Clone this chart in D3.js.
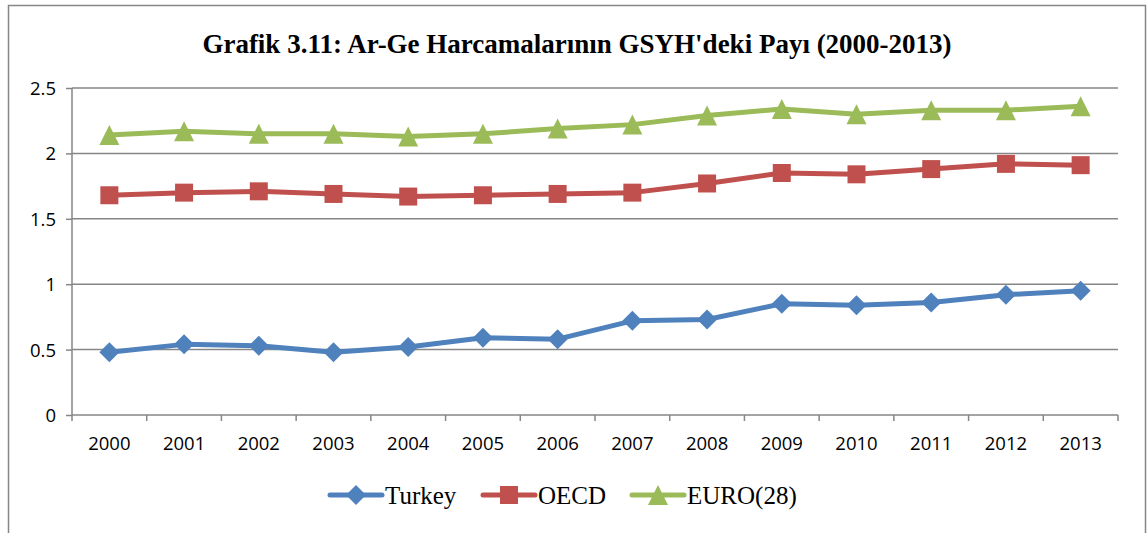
<!DOCTYPE html>
<html>
<head>
<meta charset="utf-8">
<title>Grafik 3.11</title>
<script src="https://d3js.org/d3.v7.min.js"></script>
<style>
  body { margin: 0; background: #fff; }
  .tick text { font-family: "Open Sans", sans-serif; font-size: 18.5px; fill: #000; }
</style>
</head>
<body>
<svg width="1148" height="533"></svg>
<script>
var years = ["2000","2001","2002","2003","2004","2005","2006","2007","2008","2009","2010","2011","2012","2013"];
var turkey = [0.48, 0.54, 0.53, 0.48, 0.52, 0.59, 0.58, 0.72, 0.73, 0.85, 0.84, 0.86, 0.92, 0.95];
var oecd   = [1.68, 1.70, 1.71, 1.69, 1.67, 1.68, 1.69, 1.70, 1.77, 1.85, 1.84, 1.88, 1.92, 1.91];
var euro   = [2.14, 2.17, 2.15, 2.15, 2.13, 2.15, 2.19, 2.22, 2.29, 2.34, 2.30, 2.33, 2.33, 2.36];
var yTicks = [0, 0.5, 1, 1.5, 2, 2.5];
var seriesNames = ["Turkey", "OECD", "EURO(28)"];

var svg = d3.select("svg");

// chart frame
svg.append("rect")
  .attr("x", 8.5).attr("y", 5.5)
  .attr("width", 1137).attr("height", 540)
  .attr("fill", "none").attr("stroke", "#868686").attr("stroke-width", 1.5);

var plotLeft = 72, plotRight = 1118, plotTop = 88, plotBottom = 415;

var x = d3.scaleBand().domain(years).range([plotLeft, plotRight]);
var y = d3.scaleLinear().domain([0, 2.5]).range([plotBottom, plotTop]);

svg.append("text")
  .attr("x", 577).attr("y", 53)
  .attr("text-anchor", "middle")
  .attr("font-family", "Liberation Serif, Times New Roman, serif")
  .attr("font-weight", "bold")
  .attr("font-size", "27px")
  .text("Grafik 3.11: Ar-Ge Harcamalarının GSYH'deki Payı (2000-2013)");

// gridlines
svg.append("g").selectAll("line")
  .data(yTicks.slice(1))
  .enter().append("line")
  .attr("x1", plotLeft).attr("x2", plotRight)
  .attr("y1", function(d) { return y(d); })
  .attr("y2", function(d) { return y(d); })
  .attr("stroke", "#868686").attr("stroke-width", 1.5);

// y axis
var yAxis = svg.append("g")
  .attr("transform", "translate(" + plotLeft + ",0)")
  .call(d3.axisLeft(y).tickValues(yTicks).tickSize(6).tickPadding(10).tickFormat(d3.format("")));
yAxis.selectAll("line, path").attr("stroke", "#868686").attr("stroke-width", 1.5);
yAxis.select(".domain").attr("d", "M0," + plotTop + "V" + plotBottom);
yAxis.selectAll(".tick text").attr("dy", "0.35em");

// x axis, ticks at category boundaries
var xAxis = svg.append("g")
  .attr("transform", "translate(0," + plotBottom + ")")
  .call(d3.axisBottom(x).tickSize(0).tickPadding(22));
xAxis.select(".domain").attr("d", "M" + plotLeft + ",0H" + plotRight).attr("stroke", "#868686").attr("stroke-width", 1.5);
xAxis.selectAll(".tick text").attr("dy", "0.71em");
xAxis.selectAll(".bound")
  .data(years.concat(["end"]))
  .enter().append("line")
  .attr("x1", function(d, i) { return plotLeft + i * x.step(); })
  .attr("x2", function(d, i) { return plotLeft + i * x.step(); })
  .attr("y1", 0).attr("y2", 6)
  .attr("stroke", "#868686").attr("stroke-width", 1.5);

// excel-like marker shapes (size = half width)
var diamond = { draw: function(c, r) { c.moveTo(0, -r); c.lineTo(r, 0); c.lineTo(0, r); c.lineTo(-r, 0); c.closePath(); } };
var square = { draw: function(c, r) { c.rect(-r, -r, 2 * r, 2 * r); } };
var triangle = { draw: function(c, r) { c.moveTo(0, -r); c.lineTo(r, r); c.lineTo(-r, r); c.closePath(); } };

var series = [
  { name: seriesNames[0], values: turkey, color: "#4F81BD", shape: diamond,  size: 10 },
  { name: seriesNames[1], values: oecd,   color: "#C0504D", shape: square,   size: 9 },
  { name: seriesNames[2], values: euro,   color: "#9BBB59", shape: triangle, size: 10 }
];

var line = d3.line()
  .x(function(d, i) { return x(years[i]) + x.bandwidth() / 2; })
  .y(function(d) { return y(d); });

series.forEach(function(s) {
  svg.append("path")
    .datum(s.values)
    .attr("d", line)
    .attr("fill", "none")
    .attr("stroke", s.color)
    .attr("stroke-width", 5)
    .attr("stroke-linejoin", "round");
  svg.append("g").selectAll("path")
    .data(s.values)
    .enter().append("path")
    .attr("d", d3.symbol().type(s.shape).size(s.size))
    .attr("transform", function(d, i) {
      return "translate(" + (x(years[i]) + x.bandwidth() / 2) + "," + y(d) + ")";
    })
    .attr("fill", s.color);
});

// legend
var legendX = [330, 483, 632];
var legendY = 495;
series.forEach(function(s, i) {
  var g = svg.append("g").attr("transform", "translate(" + legendX[i] + "," + legendY + ")");
  g.append("line").attr("x1", 0).attr("x2", 52).attr("y1", 0).attr("y2", 0)
    .attr("stroke", s.color).attr("stroke-width", 5).attr("stroke-linecap", "round");
  g.append("path").attr("d", d3.symbol().type(s.shape).size(s.size))
    .attr("transform", "translate(26,0)").attr("fill", s.color);
  g.append("text").attr("x", 55).attr("y", 0).attr("dy", "0.35em")
    .attr("font-family", "Liberation Serif, Times New Roman, serif")
    .attr("font-size", "25px")
    .text(s.name);
});
</script>
</body>
</html>
